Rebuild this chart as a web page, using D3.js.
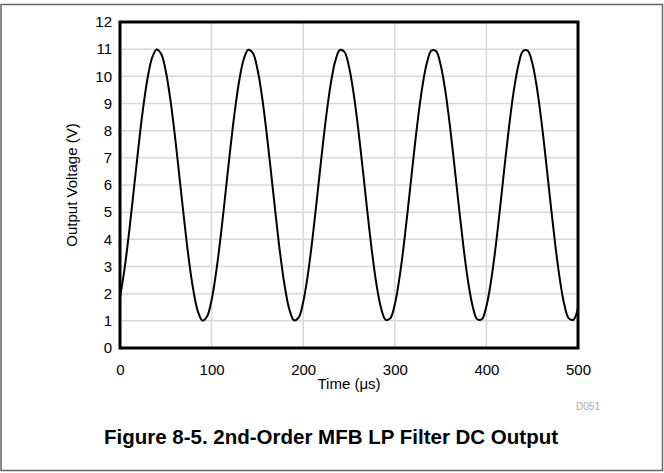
<!DOCTYPE html>
<html>
<head>
<meta charset="utf-8">
<script src="https://cdn.jsdelivr.net/npm/d3@7"></script>
<style>
  body { margin: 0; background: #fff; }
  text { font-family: "Liberation Sans", Arial, sans-serif; }
</style>
</head>
<body>
<script>
// time in microseconds, read every 5 us
const timeUs = d3.range(0, 501, 5);
const voltage = [
  1.86, 2.92, 4.28, 5.80, 7.35, 8.77, 9.91, 10.68, 10.99, 10.82,
  10.19, 9.14, 7.80, 6.27, 4.73, 3.30, 2.14, 1.35, 1.01, 1.16,
  1.77, 2.80, 4.13, 5.65, 7.20, 8.63, 9.81, 10.62, 10.98, 10.86,
  10.27, 9.26, 7.94, 6.43, 4.88, 3.43, 2.24, 1.41, 1.02, 1.12,
  1.69, 2.68, 3.99, 5.49, 7.05, 8.50, 9.71, 10.56, 10.97, 10.90,
  10.35, 9.38, 8.09, 6.59, 5.03, 3.57, 2.34, 1.47, 1.04, 1.09,
  1.61, 2.56, 3.84, 5.34, 6.89, 8.36, 9.60, 10.49, 10.95, 10.93,
  10.43, 9.50, 8.23, 6.74, 5.19, 3.71, 2.45, 1.54, 1.06, 1.06,
  1.54, 2.45, 3.70, 5.18, 6.74, 8.22, 9.49, 10.42, 10.93, 10.95,
  10.50, 9.61, 8.37, 6.90, 5.34, 3.85, 2.57, 1.61, 1.09, 1.04,
  1.47
];
const xTicks = [0, 100, 200, 300, 400, 500];
const yTicks = [0, 1, 2, 3, 4, 5, 6, 7, 8, 9, 10, 11, 12];

const data = timeUs.map((t, i) => ({ t: t, v: voltage[i] }));

const W = 664, H = 473;
const margin = { top: 22, right: 86, bottom: 125, left: 120 },
  width = W - margin.left - margin.right,
  height = H - margin.top - margin.bottom;

const x = d3.scaleLinear().domain([0, 500]).range([0, width]);
const y = d3.scaleLinear().domain([0, 12]).range([height, 0]);

const root = d3.select("body")
  .append("svg")
  .attr("width", W)
  .attr("height", H);

// outer frame
root.append("rect")
  .attr("x", 1)
  .attr("y", 4.5)
  .attr("width", 661.5)
  .attr("height", 466)
  .attr("fill", "none")
  .attr("stroke", "#666")
  .attr("stroke-width", 1.5);

const svg = root.append("g")
  .attr("transform", `translate(${margin.left}, ${margin.top})`);

// grid
svg.append("g")
  .selectAll("line")
  .data(yTicks.slice(1, -1))
  .enter()
  .append("line")
  .attr("x1", 0)
  .attr("x2", width)
  .attr("y1", d => y(d))
  .attr("y2", d => y(d))
  .attr("stroke", "#d9d9d9")
  .attr("stroke-width", 1.5);

svg.append("g")
  .selectAll("line")
  .data(xTicks.slice(1, -1))
  .enter()
  .append("line")
  .attr("x1", d => x(d))
  .attr("x2", d => x(d))
  .attr("y1", 0)
  .attr("y2", height)
  .attr("stroke", "#d9d9d9")
  .attr("stroke-width", 1.5);

// axes (labels only)
const xAxis = d3.axisBottom(x).tickValues(xTicks).tickSize(0).tickPadding(16);
const yAxis = d3.axisLeft(y).tickValues(yTicks).tickSize(0).tickPadding(8);

svg.append("g")
  .attr("class", "x axis")
  .attr("transform", "translate(0," + height + ")")
  .call(xAxis)
  .call(g => g.select(".domain").remove())
  .selectAll("text")
  .attr("font-size", 15)
  .attr("fill", "#000");

svg.append("g")
  .attr("class", "y axis")
  .call(yAxis)
  .call(g => g.select(".domain").remove())
  .selectAll("text")
  .attr("font-size", 15)
  .attr("fill", "#000");

// waveform
const line = d3.line()
  .x(d => x(d.t))
  .y(d => y(d.v))
  .curve(d3.curveCatmullRom);

svg.append("path")
  .datum(data)
  .attr("fill", "none")
  .attr("stroke", "#000")
  .attr("stroke-width", 2)
  .attr("d", line);

// plot border
svg.append("rect")
  .attr("width", width)
  .attr("height", height)
  .attr("fill", "none")
  .attr("stroke", "#000")
  .attr("stroke-width", 3);

// axis titles
svg.append("text")
  .attr("x", width / 2)
  .attr("y", height + 41)
  .attr("text-anchor", "middle")
  .attr("font-size", 15)
  .text("Time (\u03bcs)");

svg.append("text")
  .attr("transform", "rotate(-90)")
  .attr("x", -height / 2)
  .attr("y", -43)
  .attr("text-anchor", "middle")
  .attr("font-size", 15)
  .text("Output Voltage (V)");

svg.append("text")
  .attr("x", width + 10)
  .attr("y", height + 62)
  .attr("text-anchor", "middle")
  .attr("font-size", 10)
  .attr("fill", "#aaa")
  .text("D051");

// caption
root.append("text")
  .attr("x", 331)
  .attr("y", 444)
  .attr("text-anchor", "middle")
  .attr("font-size", 20.5)
  .attr("font-weight", "bold")
  .text("Figure 8-5. 2nd-Order MFB LP Filter DC Output");
</script>
</body>
</html>
